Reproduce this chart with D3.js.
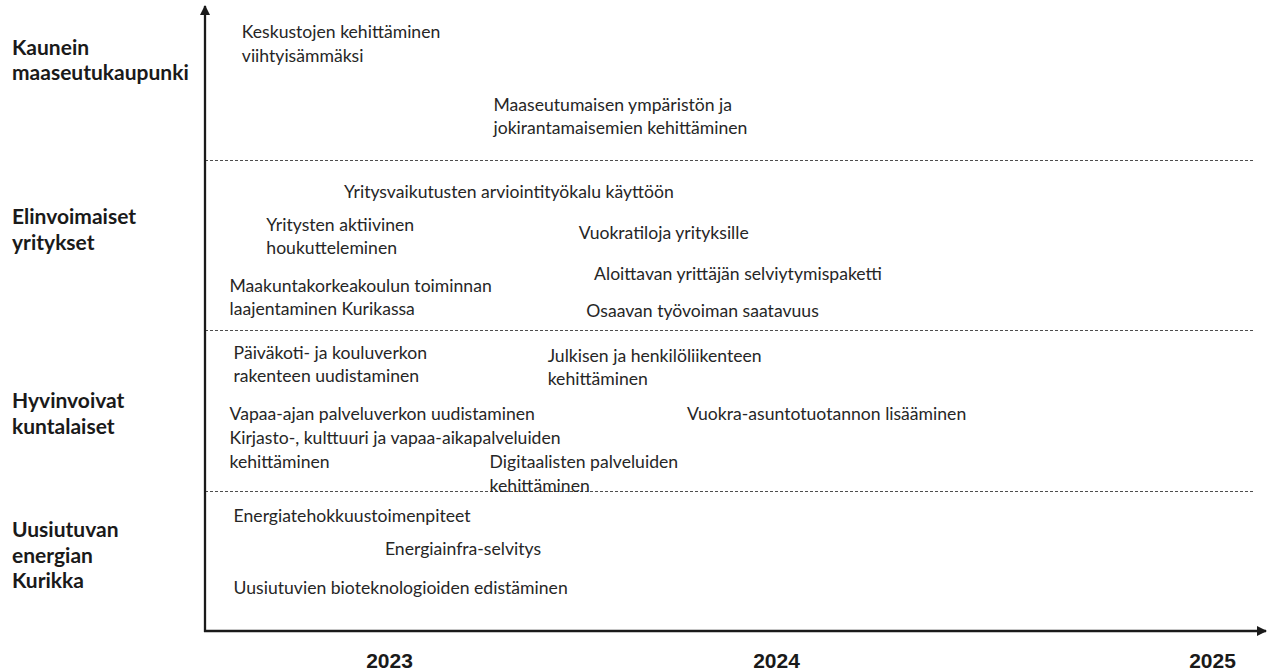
<!DOCTYPE html>
<html>
  <head>
    <meta charset="utf-8" />
    <title>Kurikka – toimenpiteet 2023-2025</title>
    <script src="https://d3js.org/d3.v7.min.js"></script>
    <style>
      body { margin: 0; background: #fff; }
      svg { display: block; }
    </style>
  </head>
  <body>
    <svg></svg>
    <script>
      // strategic themes (rows) and their labels
      const categories = ["Kaunein maaseutukaupunki", "Elinvoimaiset yritykset", "Hyvinvoivat kuntalaiset", "Uusiutuvan energian Kurikka"];
      const categoryLines = [["Kaunein", "maaseutukaupunki"], ["Elinvoimaiset", "yritykset"], ["Hyvinvoivat", "kuntalaiset"], ["Uusiutuvan", "energian", "Kurikka"]];
      const categorySlot = [0.35, 0.41, 0.52, 0.46];

      // timeline years
      const years = [2023, 2024, 2025];

      // measures: text, theme index, start (decimal year), slot inside theme row
      const measureText = [
        ["Keskustojen kehittäminen", "viihtyisämmäksi"],
        ["Maaseutumaisen ympäristön ja", "jokirantamaisemien kehittäminen"],
        ["Yritysvaikutusten arviointityökalu käyttöön"],
        ["Yritysten aktiivinen", "houkutteleminen"],
        ["Vuokratiloja yrityksille"],
        ["Maakuntakorkeakoulun toiminnan", "laajentaminen Kurikassa"],
        ["Aloittavan yrittäjän selviytymispaketti"],
        ["Osaavan työvoiman saatavuus"],
        ["Päiväkoti- ja kouluverkon", "rakenteen uudistaminen"],
        ["Julkisen ja henkilöliikenteen", "kehittäminen"],
        ["Vapaa-ajan palveluverkon uudistaminen"],
        ["Kirjasto-, kulttuuri ja vapaa-aikapalveluiden", "kehittäminen"],
        ["Vuokra-asuntotuotannon lisääminen"],
        ["Digitaalisten palveluiden", "kehittäminen"],
        ["Energiatehokkuustoimenpiteet"],
        ["Energiainfra-selvitys"],
        ["Uusiutuvien bioteknologioiden edistäminen"]
      ];
      const measureCategory = [0, 0, 1, 1, 1, 1, 1, 1, 2, 2, 2, 2, 2, 2, 3, 3, 3];
      const measureStart = [2022.64, 2023.27, 2022.89, 2022.7, 2023.49, 2022.61, 2023.53, 2023.51, 2022.62, 2023.41, 2022.61, 2022.61, 2023.77, 2023.26, 2022.62, 2022.99, 2022.62];
      const measureSlot = [0.17, 0.64, 0.19, 0.38, 0.43, 0.74, 0.67, 0.89, 0.14, 0.16, 0.52, 0.67, 0.52, 0.82, 0.18, 0.41, 0.69];

      const width = 1269, height = 672;
      const svg = d3.select("svg").attr("width", width).attr("height", height);

      // scales
      var x = d3.scaleLinear()
        .domain([2022.55, 2023, 2024, 2025, 2025.124])
        .range([205, 389, 776, 1212, 1266]);

      var y = d3.scaleLinear()
        .domain([0, 1, 2, 3, 4])
        .range([6, 160, 330, 491, 631]);

      var textColor = "#262626";
      var lineH = 23.5;

      // arrow heads
      var defs = svg.append("defs");
      defs.append("marker")
        .attr("id", "arrow")
        .attr("viewBox", "0 0 10 10")
        .attr("refX", 9)
        .attr("refY", 5)
        .attr("markerWidth", 4.4)
        .attr("markerHeight", 4.4)
        .attr("orient", "auto")
        .append("path")
        .attr("d", "M0,0L10,5L0,10Z")
        .attr("fill", "#1a1a1a");

      // dashed separators between themes
      svg.append("g")
        .selectAll("line")
        .data([1, 2, 3])
        .join("line")
        .attr("x1", x.range()[0])
        .attr("x2", 1255)
        .attr("y1", function (d) { return Math.round(y(d)) + 0.5; })
        .attr("y2", function (d) { return Math.round(y(d)) + 0.5; })
        .attr("stroke", "#3a3a3a")
        .attr("stroke-width", 0.9)
        .attr("stroke-dasharray", "3,2");

      // y axis line
      svg.append("line")
        .attr("x1", x.range()[0])
        .attr("x2", x.range()[0])
        .attr("y1", y.range()[4] + 1)
        .attr("y2", y.range()[0])
        .attr("stroke", "#1a1a1a")
        .attr("stroke-width", 2.3)
        .attr("marker-end", "url(#arrow)");

      // x axis line
      svg.append("line")
        .attr("x1", x.range()[0] - 1)
        .attr("x2", x.range()[4])
        .attr("y1", y.range()[4])
        .attr("y2", y.range()[4])
        .attr("stroke", "#1a1a1a")
        .attr("stroke-width", 2.3)
        .attr("marker-end", "url(#arrow)");

      // year labels
      var xAxis = svg.append("g")
        .attr("transform", "translate(0," + y.range()[4] + ")")
        .call(d3.axisBottom(x).tickValues(years).tickFormat(d3.format("d")).tickSize(0).tickPadding(22));
      xAxis.select(".domain").remove();
      xAxis.selectAll("text")
        .attr("fill", "#1a1a1a")
        .attr("font-family", "Liberation Sans, Arial, sans-serif")
        .attr("font-weight", "bold")
        .attr("font-size", 21);

      // theme labels
      var cat = svg.append("g")
        .selectAll("text")
        .data(categories)
        .join("text")
        .attr("x", 12)
        .attr("y", function (d, i) {
          var n = categoryLines[i].length;
          return y(i + categorySlot[i]) - (n - 1) * 25.5 / 2;
        })
        .attr("fill", "#1a1a1a")
        .attr("font-family", "Lato, Carlito, sans-serif")
        .attr("font-weight", "bold")
        .attr("font-size", 21);
      cat.selectAll("tspan")
        .data(function (d, i) { return categoryLines[i]; })
        .join("tspan")
        .attr("x", 12)
        .attr("dy", function (d, j) { return j === 0 ? "0.35em" : 25.5; })
        .text(function (d) { return d; });

      // measures
      var m = svg.append("g")
        .selectAll("text")
        .data(measureText)
        .join("text")
        .attr("x", function (d, i) { return x(measureStart[i]); })
        .attr("y", function (d, i) { return y(measureCategory[i] + measureSlot[i]); })
        .attr("fill", textColor)
        .attr("font-family", "Lato, Carlito, sans-serif")
        .attr("font-size", 17.6);
      m.selectAll("tspan")
        .data(function (d) { return d; })
        .join("tspan")
        .attr("x", function () { return d3.select(this.parentNode).attr("x"); })
        .attr("dy", function (d, j) { return j === 0 ? "0.35em" : lineH; })
        .text(function (d) { return d; });
    </script>
  </body>
</html>
